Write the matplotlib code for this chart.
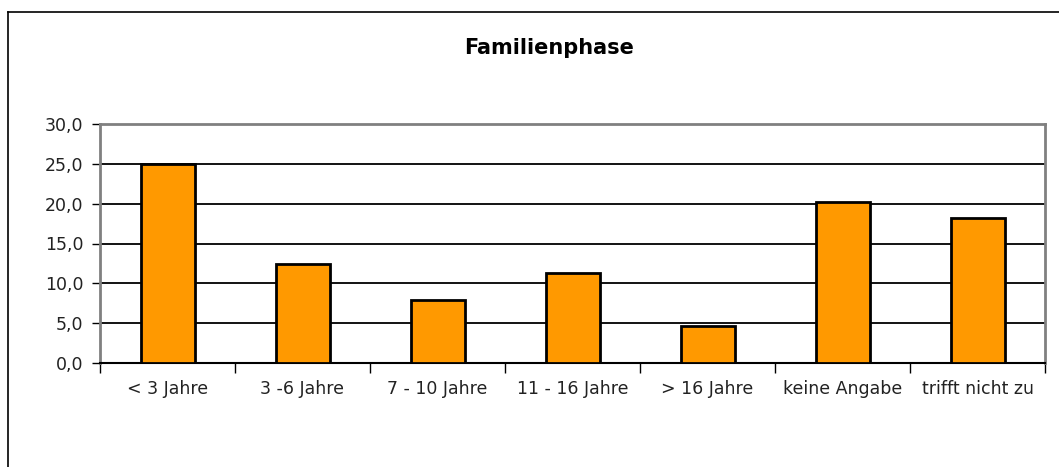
#!/usr/bin/env python3

from matplotlib import pyplot as plt
from matplotlib.lines import Line2D

categories = ["< 3 Jahre", "3 -6 Jahre", "7 - 10 Jahre", "11 - 16 Jahre",
              "> 16 Jahre", "keine Angabe", "trifft nicht zu"]
values = [25.0, 12.4, 7.9, 11.3, 4.7, 20.2, 18.2]
y_ticks = [0, 5, 10, 15, 20, 25, 30]

# the original text is wide, DejaVu Sans comes closer than an Arial clone
plt.rcParams["font.family"] = ["DejaVu Sans"]

W, H = 1059, 467
fig = plt.figure(figsize=(W / 100, H / 100), dpi=100)
ax = fig.add_axes([100 / W, 1 - 363 / H, 945 / W, 239 / H])

x = range(len(categories))
ax.bar(x, values, width=0.4, color="#FF9900", edgecolor="black",
       linewidth=2, zorder=3)

ax.set_xlim(-0.5, len(categories) - 0.5)
ax.set_ylim(0, 30)
ax.set_yticks(y_ticks)
ax.set_yticklabels([f"{v:.1f}".replace(".", ",") for v in y_ticks],
                   fontsize=12.5, color="#222222")
ax.set_xticks([i + 0.5 for i in range(-1, len(categories))])
ax.set_xticklabels([])
ax.set_xticks(list(x), minor=True)
ax.set_xticklabels(categories, minor=True, fontsize=12.5, color="#222222")
ax.tick_params(axis="x", which="major", length=7, width=1, direction="out")
ax.tick_params(axis="x", which="minor", length=0, pad=12)
ax.tick_params(axis="y", length=6, width=1, direction="out", pad=6)

for v in y_ticks[1:-1]:
    ax.axhline(v, color="black", linewidth=1.3, zorder=1)

for side in ("left", "top", "right"):
    ax.spines[side].set_color("#808080")
    ax.spines[side].set_linewidth(2)
ax.spines["bottom"].set_color("black")
ax.spines["bottom"].set_linewidth(1.5)

fig.text(549 / W, 1 - 48 / H, "Familienphase", ha="center", va="center",
         fontsize=15, fontweight="bold")

# outer chart frame (cut off at right and bottom)
fig.add_artist(Line2D([8 / W, 8 / W], [0, 1 - 12 / H], color="black", lw=1.2))
fig.add_artist(Line2D([8 / W, 1], [1 - 12 / H, 1 - 12 / H], color="black", lw=1.2))

fig.savefig("out.png", dpi=100)
